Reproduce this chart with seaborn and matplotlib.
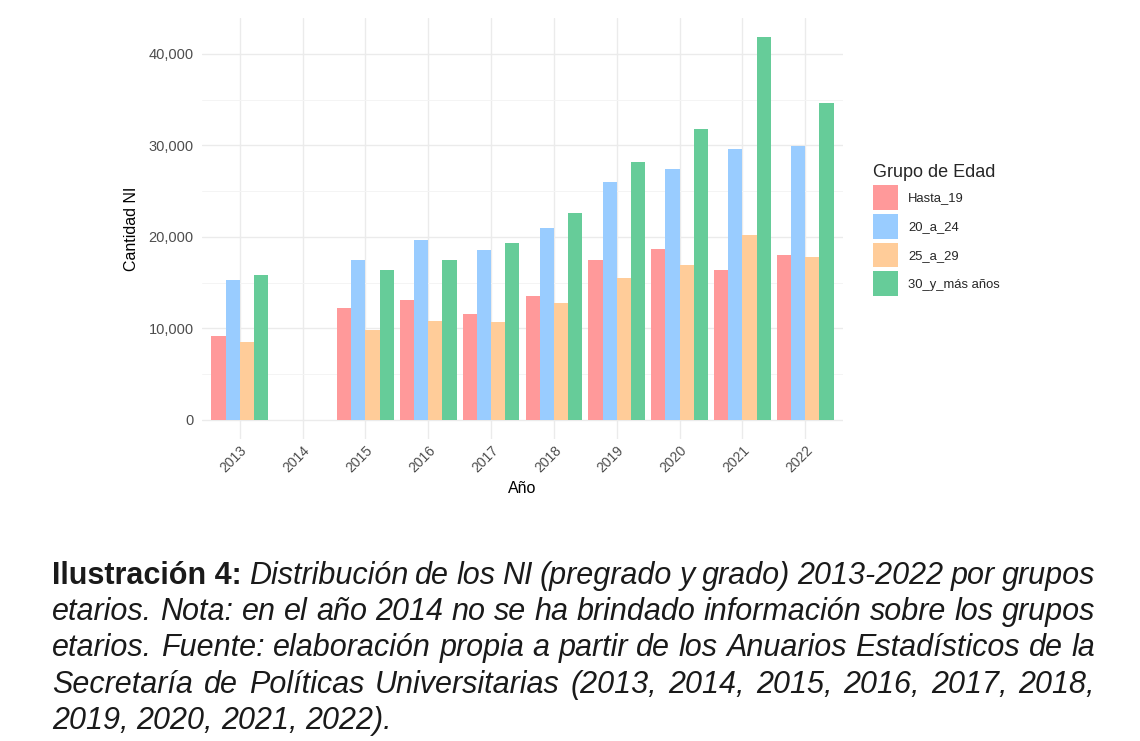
import numpy as np
import pandas as pd
import matplotlib
matplotlib.use("Agg")
import matplotlib.pyplot as plt
import matplotlib.ticker as mticker
from matplotlib.patches import Patch
import seaborn as sns

# data (2014 has no data)
years = ["2013", "2014", "2015", "2016", "2017", "2018", "2019", "2020", "2021", "2022"]
groups = ["Hasta_19", "20_a_24", "25_a_29", "30_y_más años"]
hasta_19 = [9200, np.nan, 12250, 13050, 11600, 13550, 17450, 18700, 16400, 18000]
de_20_a_24 = [15250, np.nan, 17500, 19600, 18550, 21000, 26000, 27400, 29600, 29950]
de_25_a_29 = [8500, np.nan, 9800, 10850, 10700, 12800, 15450, 16900, 20200, 17800]
de_30_mas = [15800, np.nan, 16400, 17500, 19300, 22550, 28150, 31800, 41800, 34600]
colors = ["#FF999A", "#99CCFF", "#FFCC99", "#66CC99"]

caption_lines = [
    [("Ilustración 4:", "bold")] + [(w, "italic") for w in "Distribución de los NI (pregrado y grado) 2013-2022 por grupos".split()],
    [(w, "italic") for w in "etarios. Nota: en el año 2014 no se ha brindado información sobre los grupos".split()],
    [(w, "italic") for w in "etarios. Fuente: elaboración propia a partir de los Anuarios Estadísticos de la".split()],
    [(w, "italic") for w in "Secretaría de Políticas Universitarias (2013, 2014, 2015, 2016, 2017, 2018,".split()],
    [(w, "italic") for w in "2019, 2020, 2021, 2022).".split()],
]

df = pd.DataFrame({
    "Año": years * 4,
    "Grupo": sum([[g] * len(years) for g in groups], []),
    "Cantidad": hasta_19 + de_20_a_24 + de_25_a_29 + de_30_mas,
}).dropna()

sns.set_style("white")
plt.rcParams["font.family"] = ["Liberation Sans", "DejaVu Sans"]

fig = plt.figure(figsize=(11.4, 7.41), dpi=100)
W, H = 1140, 741
ax = fig.add_axes([202 / W, 1 - 439 / H, (843 - 202) / W, (439 - 18) / H])

sns.barplot(data=df, x="Año", y="Cantidad", hue="Grupo", order=years, hue_order=groups,
            palette=colors, saturation=1, width=0.9, linewidth=0, errorbar=None,
            legend=False, ax=ax)

ax.set_xlim(-0.6, len(years) - 0.4)
ax.set_ylim(-2091, 43909)
ax.yaxis.set_major_locator(mticker.MultipleLocator(10000))
ax.yaxis.set_minor_locator(mticker.MultipleLocator(5000))
ax.yaxis.set_major_formatter(mticker.FuncFormatter(lambda v, p: f"{int(v):,}"))
ax.set_axisbelow(True)
ax.grid(which="major", color="#EBEBEB", linewidth=1.0)
ax.grid(which="minor", axis="y", color="#F4F4F4", linewidth=0.7)
for s in ax.spines.values():
    s.set_visible(False)
ax.tick_params(which="both", length=0)
ax.tick_params(axis="y", labelsize=10.5, labelcolor="#4D4D4D", pad=6)
ax.tick_params(axis="x", labelsize=10, labelcolor="#4D4D4D", pad=3)
plt.setp(ax.get_xticklabels(), rotation=45, ha="right", rotation_mode="anchor")
ax.set_xlabel("Año", fontsize=11.5, color="black", labelpad=4)
ax.set_ylabel("Cantidad NI", fontsize=11.5, color="black", labelpad=7)

# legend keys ~25px square, rows ~28px apart
handles = [Patch(facecolor=c, edgecolor="none") for c in colors]
leg = fig.legend(handles, groups, title="Grupo de Edad", loc="upper left",
                 bbox_to_anchor=(868 / W, 1 - 159 / H), frameon=False,
                 fontsize=9.4, title_fontsize=13, handlelength=1.92, handleheight=2.55,
                 labelspacing=0.3, handletextpad=0.76, borderaxespad=0)
leg._legend_box.align = "left"

# justified caption under the chart
renderer = fig.canvas.get_renderer()
x0, x1 = 52, 1095
baselines = [584, 620, 656, 693, 729]
cap_size = 22
for i, line in enumerate(caption_lines):
    texts = []
    for word, style in line:
        kw = {"fontweight": "bold"} if style == "bold" else {"fontstyle": "italic"}
        t = fig.text(0, 0, word, fontsize=cap_size, color="#1A1A1A", va="baseline",
                     ha="left", **kw)
        texts.append(t)
    widths = [t.get_window_extent(renderer).width for t in texts]
    last = i == len(caption_lines) - 1
    if last or len(texts) == 1:
        gap = cap_size * 1.389 * 0.26
    else:
        gap = (x1 - x0 - sum(widths)) / (len(texts) - 1)
    x = x0
    for t, w in zip(texts, widths):
        t.set_position((x / W, 1 - baselines[i] / H))
        x += w + gap

fig.savefig("out.png", dpi=100, facecolor="white")
